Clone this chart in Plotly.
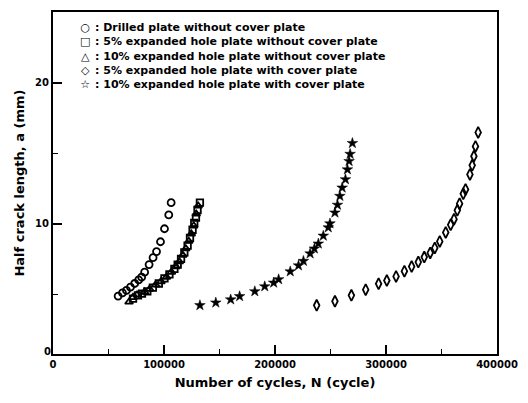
import plotly.graph_objects as go

# ---- data ----
drilled_N = [58670, 62600, 66180, 69750, 73600, 77180, 79860, 82540, 86570, 90140,
             93270, 96850, 100430, 104280, 106420]
drilled_a = [4.86, 5.08, 5.26, 5.49, 5.75, 6.00, 6.20, 6.55, 7.09, 7.58,
             8.01, 8.71, 9.63, 10.61, 11.48]

exp5_N = [72080, 76550, 80130, 84960, 89970, 95330, 100430, 104900, 109370, 112320,
          115360, 118320, 121270, 123410, 125740, 127260, 128780, 130210, 132360]
exp5_a = [4.68, 4.91, 5.03, 5.19, 5.45, 5.75, 6.11, 6.39, 6.79, 7.09,
          7.49, 7.96, 8.43, 8.99, 9.56, 10.05, 10.42, 10.96, 11.48]

exp10_N = [68500, 72080, 75660, 82540, 87020, 92380, 97300, 102220, 106690, 110710,
           113850, 116970, 119660, 122340, 124570, 126810, 129050, 130830]
exp10_a = [4.44, 4.77, 4.94, 5.14, 5.35, 5.65, 5.89, 6.21, 6.56, 6.95,
           7.30, 7.76, 8.22, 8.75, 9.27, 9.84, 10.68, 11.25]

cov5_N = [237530, 253980, 268830, 281700, 293330, 300750, 309070, 316580, 323110, 329100,
          334470, 339830, 343950, 348420, 353790, 358260, 361300, 364250, 366310, 369610,
          371670, 375610, 377660, 379180, 380610, 383030]
cov5_a = [4.20, 4.49, 4.91, 5.31, 5.73, 5.96, 6.25, 6.62, 6.95, 7.27,
          7.62, 7.92, 8.27, 8.73, 9.37, 9.91, 10.31, 10.94, 11.41, 12.11,
          12.42, 13.48, 14.13, 14.77, 15.47, 16.46]

cov10_N = [132360, 146670, 160080, 168130, 181810, 190750, 198800, 203270, 213740, 221160,
           225630, 231620, 235470, 239050, 243520, 247990, 249510, 253980, 256310, 258450,
           260510, 263460, 265250, 266770, 267670, 269720]
cov10_a = [4.20, 4.39, 4.61, 4.84, 5.19, 5.54, 5.80, 6.04, 6.60, 7.02,
           7.34, 7.87, 8.22, 8.57, 9.13, 9.72, 10.00, 10.77, 11.32, 11.95,
           12.54, 13.13, 13.83, 14.42, 14.93, 15.70]

legend_labels = [
    "Drilled plate without cover plate",
    "5% expanded hole plate without cover plate",
    "10% expanded hole plate without cover plate",
    "5% expanded hole plate with cover plate",
    "10% expanded hole plate with cover plate",
]
legend_glyphs = ["○", "□", "△", "◇", "☆"]

x_ticks = [0, 100000, 200000, 300000, 400000]
y_ticks = [10, 20]

FONT = "DejaVu Sans"

fig = go.Figure()
series = [
    (drilled_N, drilled_a, "circle-open", 7, 1.8),
    (exp5_N, exp5_a, "square-open", 6.5, 1.8),
    (exp10_N, exp10_a, "triangle-up-open", 7, 1.8),
    (cov5_N, cov5_a, "diamond-tall-open", 8, 1.8),
    (cov10_N, cov10_a, "star", 8, 0.5),
]
for (xs, ys, sym, sz, lw), name in zip(series, legend_labels):
    fig.add_trace(go.Scatter(
        x=xs, y=ys, mode="markers", name=name, showlegend=False,
        marker=dict(symbol=sym, size=sz, color="black",
                    line=dict(color="black", width=lw)),
    ))

# plot-area geometry (pixels)
L, R, T, B = 53, 28, 10, 49
W, H = 528 - L - R, 403 - T - B
def px2paper(px, py):
    return (px - L) / W, (403 - B - py) / H

# compact legend drawn as two multi-line text blocks
gx, gy = px2paper(85, 54)
fig.add_annotation(x=gx, y=gy, xref="paper", yref="paper",
                   text="<br>".join(legend_glyphs), align="center",
                   showarrow=False, xanchor="center", yanchor="middle",
                   font=dict(family=FONT, size=11, color="black"))
tx, ty = px2paper(93, 54)
fig.add_annotation(x=tx, y=ty, xref="paper", yref="paper",
                   text="<br>".join(": " + s for s in legend_labels), align="left",
                   showarrow=False, xanchor="left", yanchor="middle",
                   font=dict(family=FONT, size=11, color="black", weight="bold"))

# the "0" of the vertical axis sits at the corner in the reference
zx, zy = px2paper(47, 351)
fig.add_annotation(x=zx, y=zy, xref="paper", yref="paper", text="0",
                   showarrow=False, xanchor="center", yanchor="middle",
                   font=dict(family=FONT, size=10, color="black", weight="bold"))

axis_common = dict(
    showgrid=False, zeroline=False, showline=True, linecolor="black", linewidth=2,
    mirror=True, ticks="inside", tickcolor="black", tickwidth=1.5,
    tickfont=dict(family=FONT, size=10, color="black", weight="bold"),
)
fig.update_xaxes(
    range=[0, 400000], tickvals=x_ticks, ticktext=[str(v) for v in x_ticks],
    ticklen=9,
    minor=dict(dtick=50000, tick0=0, ticks="inside", ticklen=5, tickwidth=1.2, tickcolor="black"),
    title=dict(text="Number of cycles, N (cycle)", standoff=9,
               font=dict(family=FONT, size=13, color="black", weight="bold")),
    **axis_common,
)
fig.update_yaxes(
    range=[0.75, 25], tickvals=y_ticks, ticktext=[str(v) for v in y_ticks],
    ticklen=9,
    minor=dict(dtick=5, tick0=0, ticks="inside", ticklen=5, tickwidth=1.2, tickcolor="black"),
    title=dict(text="Half crack length, a (mm)", standoff=8,
               font=dict(family=FONT, size=13, color="black", weight="bold")),
    **axis_common,
)
fig.update_layout(
    width=528, height=403,
    margin=dict(l=L, r=R, t=T, b=B),
    plot_bgcolor="white", paper_bgcolor="white",
    showlegend=False,
)
fig.write_html("out.html")
